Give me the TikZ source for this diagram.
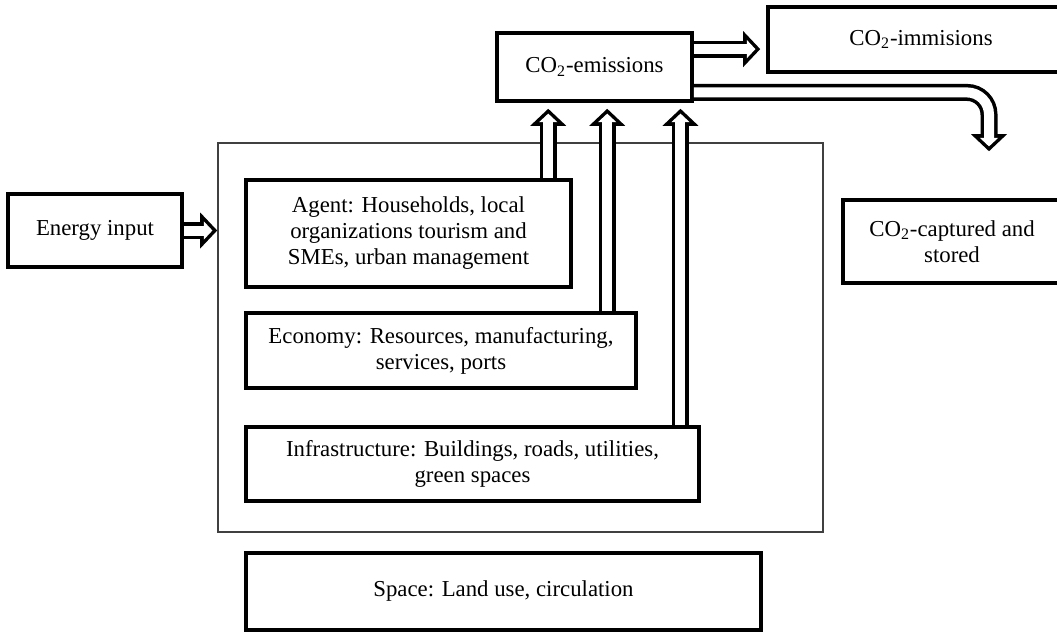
\documentclass[tikz,border=0pt]{standalone}
\usepackage{fontspec}
\setmainfont{Liberation Serif}
\usetikzlibrary{arrows.meta,calc}
\tikzset{%
  % boxes
     base/.style = {rectangle, draw=black, line width=1.8pt,
                    align=center, inner sep=2pt,
                    font=\fontsize{11.4}{13}\selectfont},
    frameBox/.style = {rectangle, draw=black!75, line width=0.8pt},
  % hollow arrow: black body with a white inner body
    fatArrow/.style = {line width=8.5pt,
                       -{Triangle[width=18pt,length=8.5pt,line width=0pt]},
                       shorten >=#1,
                       postaction={draw=white, line width=5pt, shorten >=#1+2.4pt,
                       -{Triangle[width=9.2pt,length=4.3pt,line width=0pt]}}},
    fatArrow/.default=0pt,
}
\begin{document}
\begin{tikzpicture}[x=0.5pt, y=-0.5pt]
  \useasboundingbox (0,0) rectangle (1057,633);
  % frame of the city system
  \node (city)      [frameBox, minimum width=302.5pt, minimum height=194.5pt] at (520.5,337.5) {};

  % boxes
  \node (energy)    [base, minimum width=87pt, minimum height=36.5pt] at (95,230.5)
                    {Energy input};
  \node (agent)     [base, minimum width=162.5pt, minimum height=53.5pt] at (408.5,233.5)
                    {Agent: Households, local\\
                     organizations tourism and\\
                     SMEs, urban management};
  \node (economy)   [base, minimum width=195pt, minimum height=37.5pt] at (441,350.5)
                    {Economy: Resources, manufacturing,\\
                     services, ports};
  \node (infra)     [base, minimum width=226.5pt, minimum height=37pt] at (472.5,464)
                    {Infrastructure: Buildings, roads, utilities,\\
                     green spaces};
  \node (space)     [base, minimum width=257.5pt, minimum height=38.5pt] at (503.5,591.5)
                    {Space: Land use, circulation};
  \node (emis)      [base, minimum width=97.5pt, minimum height=34pt] at (594.5,67)
                    {CO\textsubscript{2}-emissions};
  \node (immis)     [base, minimum width=153pt, minimum height=32.5pt] at (921,39.5)
                    {CO\textsubscript{2}-immisions};
  \node (captured)  [base, minimum width=109pt, minimum height=41.5pt] at (952,241.5)
                    {CO\textsubscript{2}-captured and\\
                     stored};

  % anchor points on the emissions box
  \coordinate (up1) at ($(emis.south west)!0.267!(emis.south east)$);
  \coordinate (up2) at ($(emis.south west)!0.564!(emis.south east)$);
  \coordinate (up3) at ($(emis.south west)!0.933!(emis.south east)$);
  \coordinate (out1) at ($(emis.north east)!0.25!(emis.south east)$);
  \coordinate (out2) at ($(emis.north east)!0.855!(emis.south east)$);
  \coordinate (bend) at (989,0);

  % arrows
  \draw[fatArrow] (energy.east) -- (city.west |- energy.east);

  \draw[fatArrow=3pt] (agent.north -| up1) -- (up1);
  \draw[fatArrow=3pt] (economy.north -| up2) -- (up2);
  \draw[fatArrow=3pt] (infra.north -| up3) -- (up3);

  \draw[fatArrow=3pt] (out1) -- (immis.west |- out1);
  \draw[fatArrow, rounded corners=11pt] (out2) -- (bend |- out2) -- ($(bend |- captured.north)+(0,-47)$);
\end{tikzpicture}
\end{document}
